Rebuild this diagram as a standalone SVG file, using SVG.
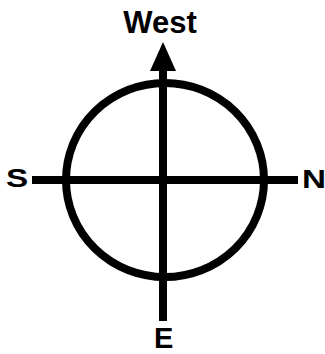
<svg xmlns="http://www.w3.org/2000/svg" width="325" height="354" viewBox="0 0 325 354">
<style>
.ln{stroke:#000;stroke-width:8;fill:none}
.lbl{font-family:"Liberation Sans",Arial,sans-serif;font-weight:bold;fill:#000}
</style>
<rect width="325" height="354" fill="#fff"/>
<g id="circle"><ellipse class="ln" cx="165" cy="180" rx="99" ry="97" stroke-width="9"/></g>
<g id="connectors">
<line class="ln" x1="32" y1="180" x2="298" y2="180"/>
<line class="ln" x1="163" y1="321" x2="163" y2="68"/>
<polygon points="163,42 176,71 150,71" fill="#000"/>
</g>
<g id="west"><text class="lbl" x="160" y="33" font-size="31" text-anchor="middle">West</text></g>
<g id="south"><text class="lbl" font-size="25" transform="translate(6,187) scale(1.33,1)">S</text></g>
<g id="north"><text class="lbl" font-size="25" transform="translate(302,188) scale(1.33,1)">N</text></g>
<g id="east"><text class="lbl" x="154" y="348" font-size="29">E</text></g>
</svg>
